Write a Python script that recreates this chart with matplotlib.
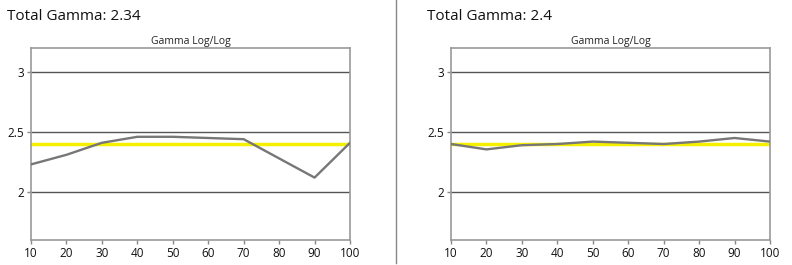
import matplotlib
matplotlib.use("Agg")
import matplotlib.pyplot as plt
from matplotlib.lines import Line2D

# data
x = [10, 20, 30, 40, 50, 60, 70, 80, 90, 100]
gamma_left = [2.23, 2.31, 2.41, 2.46, 2.46, 2.45, 2.44, 2.28, 2.12, 2.41]
gamma_right = [2.40, 2.355, 2.39, 2.40, 2.42, 2.41, 2.40, 2.42, 2.45, 2.42]
target = 2.4
totals = ["2.34", "2.4"]
yticks = [2, 2.5, 3]
ytick_labels = ["2", "2.5", "3"]

plt.rcParams['font.family'] = ['Open Sans', 'DejaVu Sans']

fig = plt.figure(figsize=(7.92, 2.65), dpi=100)
W, H = 792, 265


def draw_panel(left_px, values, total, title_x_px):
    ax = fig.add_axes([left_px / W, 25 / H, 319 / W, 192 / H])
    ax.set_xlim(10, 100)
    ax.set_ylim(1.6, 3.2)
    for yv in yticks:
        ax.axhline(yv, color='#555555', lw=1.0, zorder=1)
    ax.plot([10, 100], [target, target], color='#f5f000', lw=2.5, zorder=2)
    ax.plot(x, values, color='#777777', lw=1.7, zorder=3)
    ax.set_xticks(x)
    ax.set_xticklabels([str(v) for v in x], fontsize=8.5)
    ax.set_yticks(yticks)
    ax.set_yticklabels(ytick_labels, fontsize=8.5)
    ax.tick_params(direction='out', length=3, width=1, color='#888888',
                   pad=2, labelcolor='#111111')
    for s in ax.spines.values():
        s.set_color('#999999')
        s.set_linewidth(1.2)
    ax.set_title("Gamma Log/Log", fontsize=7.5, pad=3, color='#222222')
    fig.text(title_x_px / W, 1 - 16 / H, "Total Gamma: " + total,
             fontsize=11, va='center', ha='left', color='#111111')
    return ax


draw_panel(31, gamma_left, totals[0], 7)
draw_panel(451, gamma_right, totals[1], 427)

# separator between panels
fig.add_artist(Line2D([396 / W, 396 / W], [2 / H, 1.0], color='#888888',
                      lw=1.0, transform=fig.transFigure))

fig.savefig("out.png", dpi=100, facecolor='white')
